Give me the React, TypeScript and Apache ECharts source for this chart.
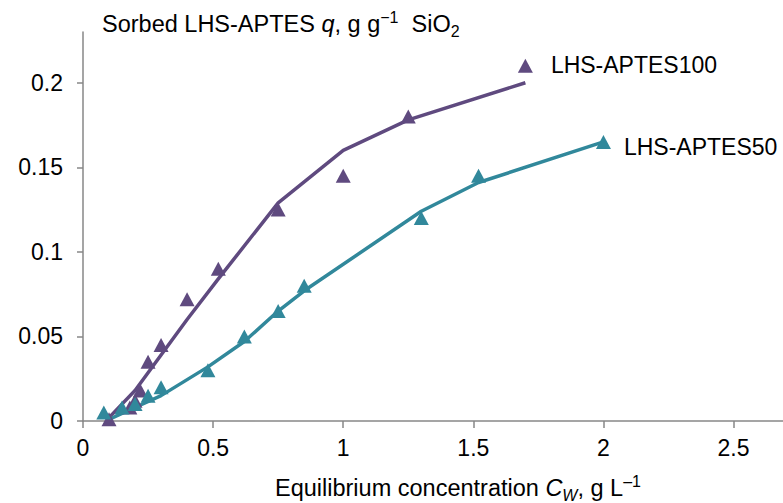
import React, { useEffect, useRef } from "react";
import * as echarts from "echarts";

// Experimental points [Cw, q]
const aptes100Points: number[][] = [
  [0.1, 0.001], [0.18, 0.008], [0.2, 0.012], [0.22, 0.018], [0.25, 0.035],
  [0.3, 0.045], [0.4, 0.072], [0.52, 0.09], [0.75, 0.125], [1.0, 0.145],
  [1.25, 0.18], [1.7, 0.21],
];
const aptes50Points: number[][] = [
  [0.08, 0.005], [0.15, 0.008], [0.2, 0.01], [0.25, 0.015], [0.3, 0.02],
  [0.48, 0.03], [0.62, 0.05], [0.75, 0.065], [0.85, 0.08], [1.3, 0.12],
  [1.52, 0.145], [2.0, 0.165],
];
// Fitted curves
const aptes100Fit: number[][] = [
  [0.1, 0.002], [0.2, 0.018], [0.3, 0.039], [0.4, 0.06], [0.52, 0.084],
  [0.75, 0.129], [1.0, 0.16], [1.25, 0.178], [1.7, 0.2],
];
const aptes50Fit: number[][] = [
  [0.1, 0.001], [0.2, 0.008], [0.3, 0.015], [0.48, 0.032], [0.62, 0.047],
  [0.75, 0.065], [0.85, 0.077], [1.3, 0.124], [1.52, 0.141], [2.0, 0.165],
];
const seriesNames = ["LHS-APTES100", "LHS-APTES50"];
const xTicks = [0, 0.5, 1, 1.5, 2, 2.5];
const yTicks = [0, 0.05, 0.1, 0.15, 0.2];

const PURPLE = "#5f4a7f";
const TEAL = "#31889b";
const AXIS = "#878787";
const FONT = "'Liberation Sans', Arial, sans-serif";
const FS = 23;

function withEndLabel(points: number[][], name: string, distance: number, offset: number[]) {
  return points.map((p, i) =>
    i === points.length - 1
      ? {
          value: p,
          label: {
            show: true,
            formatter: name,
            position: "right",
            distance,
            offset,
            color: "#000",
            fontSize: FS,
            fontFamily: FONT,
          },
        }
      : { value: p }
  );
}

export default function App() {
  const ref = useRef<HTMLDivElement>(null);
  useEffect(() => {
    if (!ref.current) return;
    const chart = echarts.init(ref.current, undefined, { renderer: "svg" });
    const rich = {
      a: { fontSize: 23.5, fontFamily: FONT, color: "#000", lineHeight: 30, verticalAlign: "middle" },
      i: { fontSize: 23.5, fontFamily: FONT, color: "#000", fontStyle: "italic", lineHeight: 30, verticalAlign: "middle" },
      sup: { fontSize: 16, fontFamily: FONT, color: "#000", lineHeight: 15, verticalAlign: "top" },
      sub: { fontSize: 16, fontFamily: FONT, color: "#000", lineHeight: 15, verticalAlign: "bottom" },
      isub: { fontSize: 16, fontFamily: FONT, color: "#000", fontStyle: "italic", lineHeight: 15, verticalAlign: "bottom" },
    };
    chart.setOption({
      animation: false,
      backgroundColor: "#fff",
      grid: { left: 83, top: 32, right: 0, bottom: 82 },
      xAxis: {
        type: "value",
        min: 0,
        max: 2.69,
        interval: 0.5,
        splitLine: { show: false },
        axisLine: { show: true, lineStyle: { color: AXIS, width: 1.5 } },
        axisTick: { show: true, length: 7, lineStyle: { color: AXIS, width: 1.5 }, customValues: xTicks },
        axisLabel: { color: "#000", fontSize: FS, fontFamily: FONT, margin: 15, customValues: xTicks },
      },
      yAxis: {
        type: "value",
        min: 0,
        max: 0.23,
        interval: 0.05,
        splitLine: { show: false },
        axisLine: { show: true, lineStyle: { color: AXIS, width: 1.5 } },
        axisTick: { show: true, length: 6, lineStyle: { color: AXIS, width: 1.5 }, customValues: yTicks },
        axisLabel: { color: "#000", fontSize: FS, fontFamily: FONT, margin: 20, customValues: yTicks },
      },
      graphic: [
        {
          type: "text",
          left: 102,
          top: 9,
          style: {
            text: "{a|Sorbed LHS-APTES }{i|q}{a|, g g}{sup|\u22121}{a|  SiO}{sub|2}",
            rich,
          },
        },
        {
          type: "text",
          left: 275,
          top: 473,
          style: {
            text: "{a|Equilibrium concentration }{i|C}{isub|W}{a|, g L}{sup|\u20131}",
            rich,
          },
        },
      ],
      series: [
        {
          type: "line",
          name: seriesNames[0] + " fit",
          data: aptes100Fit,
          showSymbol: false,
          lineStyle: { color: PURPLE, width: 3.5 },
          z: 2,
        },
        {
          type: "line",
          name: seriesNames[1] + " fit",
          data: aptes50Fit,
          showSymbol: false,
          lineStyle: { color: TEAL, width: 3.5 },
          z: 2,
        },
        {
          type: "scatter",
          name: seriesNames[0],
          data: withEndLabel(aptes100Points, seriesNames[0], 18, [0, -1]),
          symbol: "triangle",
          symbolSize: [15, 14],
          itemStyle: { color: PURPLE, opacity: 1 },
          z: 3,
        },
        {
          type: "scatter",
          name: seriesNames[1],
          data: withEndLabel(aptes50Points, seriesNames[1], 13, [0, 5]),
          symbol: "triangle",
          symbolSize: [15, 14],
          itemStyle: { color: TEAL, opacity: 1 },
          z: 3,
        },
      ],
    });
    return () => chart.dispose();
  }, []);
  return (
    <div
      ref={ref}
      style={{ position: "fixed", left: 0, top: 0, width: 783, height: 503, background: "#fff" }}
    />
  );
}
